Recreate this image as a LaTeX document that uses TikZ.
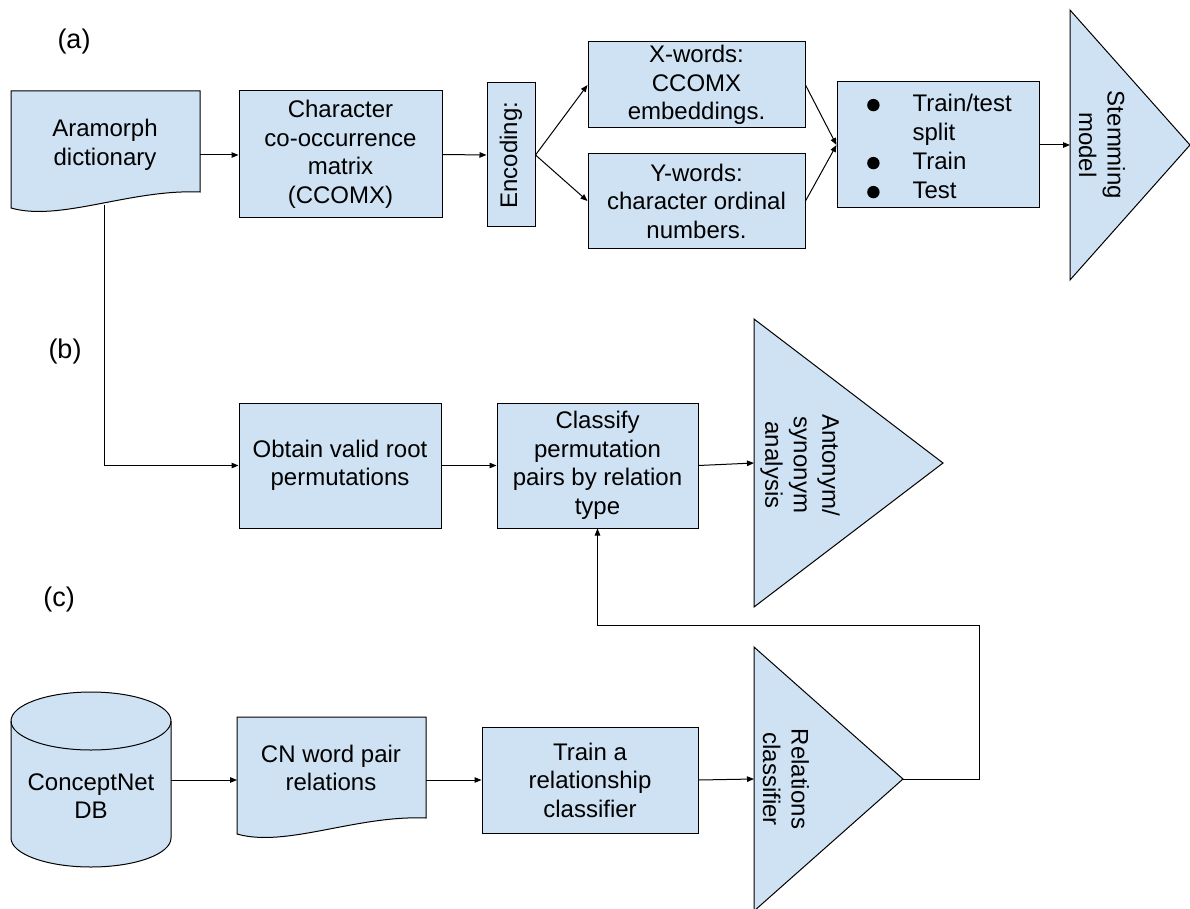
\documentclass[tikz,border=0pt]{standalone}
\usepackage{fontspec}
\setmainfont{Liberation Sans}
\usepackage{graphicx}
\usetikzlibrary{arrows.meta}
\definecolor{boxfill}{HTML}{CFE2F3}
\tikzset{
  every node/.style={font=\fontsize{24}{28.5}\selectfont, inner sep=0pt},
  blk/.style={draw=black, line width=1pt, fill=boxfill, align=center},
  shp/.style={draw=black, line width=1pt, fill=boxfill},
  arr/.style={-{Triangle[length=7pt,width=5.5pt]}, line width=1pt},
  lbl/.style={align=center},
  sec/.style={font=\fontsize{27}{30}\selectfont},
}
\newcommand\docshape[2]{%
  \begin{scope}[shift={(#1,#2)}]
    \draw[shp] (0,0) -- (189,0) -- (189,101) .. controls (119,98) and (49,131) .. (0,117) -- cycle;
  \end{scope}}
\newcommand\bul{\tikz\fill (0,0) circle (6.2pt);}
\begin{document}
\begin{tikzpicture}[x=1pt,y=-1pt]
\useasboundingbox (0,0) rectangle (1190,909);
% section labels
\node[sec] (la) at (74,42) {(a)};
\node[sec] (lb) at (65,352) {(b)};
\node[sec] (lc) at (59,600) {(c)};
% ---------- row (a)
\docshape{11}{91}
\node[lbl] (aram) at (105,145) {Aramorph\\dictionary};
\coordinate (aramE) at (200,155);
\coordinate (abot) at (104,205);
\node[blk, minimum width=203pt, minimum height=127pt] (char) at (340.5,154.5) {Character\\co-occurrence\\matrix\\(CCOMX)};
\node[blk, minimum width=48pt, minimum height=144pt] (enc) at (511,155) {\rotatebox{90}{Encoding:}};
\node[blk, minimum width=217pt, minimum height=86pt] (xw) at (696.5,85) {X-words:\\CCOMX\\embeddings.};
\node[blk, minimum width=217pt, minimum height=94pt] (yw) at (696.5,201) {Y-words:\\character ordinal\\numbers.};
\node[blk, minimum width=202pt, minimum height=126pt] (trn) at (938,145) {};
\node[anchor=west, align=left] (trnt) at (867,149) {\fontsize{24}{29}\selectfont
  \begin{tabular}{@{}c@{\hspace{33pt}}l@{}}\bul & Train/test\\ & split\\ \bul & Train\\ \bul & Test\end{tabular}};
\draw[shp] (1070,10) -- (1190,145) -- (1070,280) -- cycle;
\coordinate (stemW) at (1070,145);
\node[lbl, rotate=-90] (stem) at (1102,145) {Stemming\\model};
\draw[arr] (aramE) -- (aramE -| char.west);
\draw[arr] (char.east) -- (enc.west);
\draw[arr] (enc.east) -- (xw.west);
\draw[arr] (enc.east) -- (yw.west);
\draw[arr] (xw.east) -- (trn.west);
\draw[arr] (yw.east) -- (trn.west);
\draw[arr] (trn.east) -- (stemW);
% ---------- row (b)
\node[blk, minimum width=202pt, minimum height=125pt] (obt) at (340,465.5) {Obtain valid root\\permutations};
\node[blk, minimum width=201pt, minimum height=125pt] (cls) at (597.5,465.5) {Classify\\permutation\\pairs by relation\\type};
\draw[shp] (754,319) -- (943,463) -- (754,607) -- cycle;
\coordinate (antW) at (754,463);
\node[lbl, rotate=-90] (ant) at (800,465) {Antonym/\\synonym\\analysis};
\draw[arr] (abot) |- (obt.west);
\draw[arr] (obt.east) -- (cls.west);
\draw[arr] (cls.east) -- (antW);
% ---------- row (c)
\draw[shp] (11,721) -- (11,838) arc[start angle=180, end angle=360, x radius=80pt, y radius=29pt]
  -- (171,721) arc[start angle=0, end angle=180, x radius=80pt, y radius=29pt] -- cycle;
\draw[line width=1pt] (11,721) arc[start angle=180, end angle=360, x radius=80pt, y radius=29pt];
\node[lbl] (cnet) at (91,796) {ConceptNet\\DB};
\coordinate (cnetE) at (171,780);
\docshape{237}{717}
\node[lbl] (cnw) at (331,768) {CN word pair\\relations};
\coordinate (cnwW) at (237,780);
\coordinate (cnwE) at (426,780);
\node[blk, minimum width=216pt, minimum height=106pt] (trc) at (590,780) {Train a\\relationship\\classifier};
\draw[shp] (754,647) -- (903,779) -- (754,911) -- cycle;
\coordinate (relW) at (754,779);
\coordinate (relT) at (903,779);
\node[lbl, rotate=-90] (rel) at (786,779) {Relations\\classifier};
\coordinate (fbR) at (979,625);
\draw[arr] (cnetE) -- (cnwW);
\draw[arr] (cnwE) -- (cnwE -| trc.west);
\draw[arr] (trc.east) -- (relW);
\draw[arr] (relT) -| (fbR) -| (cls.south);
\end{tikzpicture}
\end{document}
